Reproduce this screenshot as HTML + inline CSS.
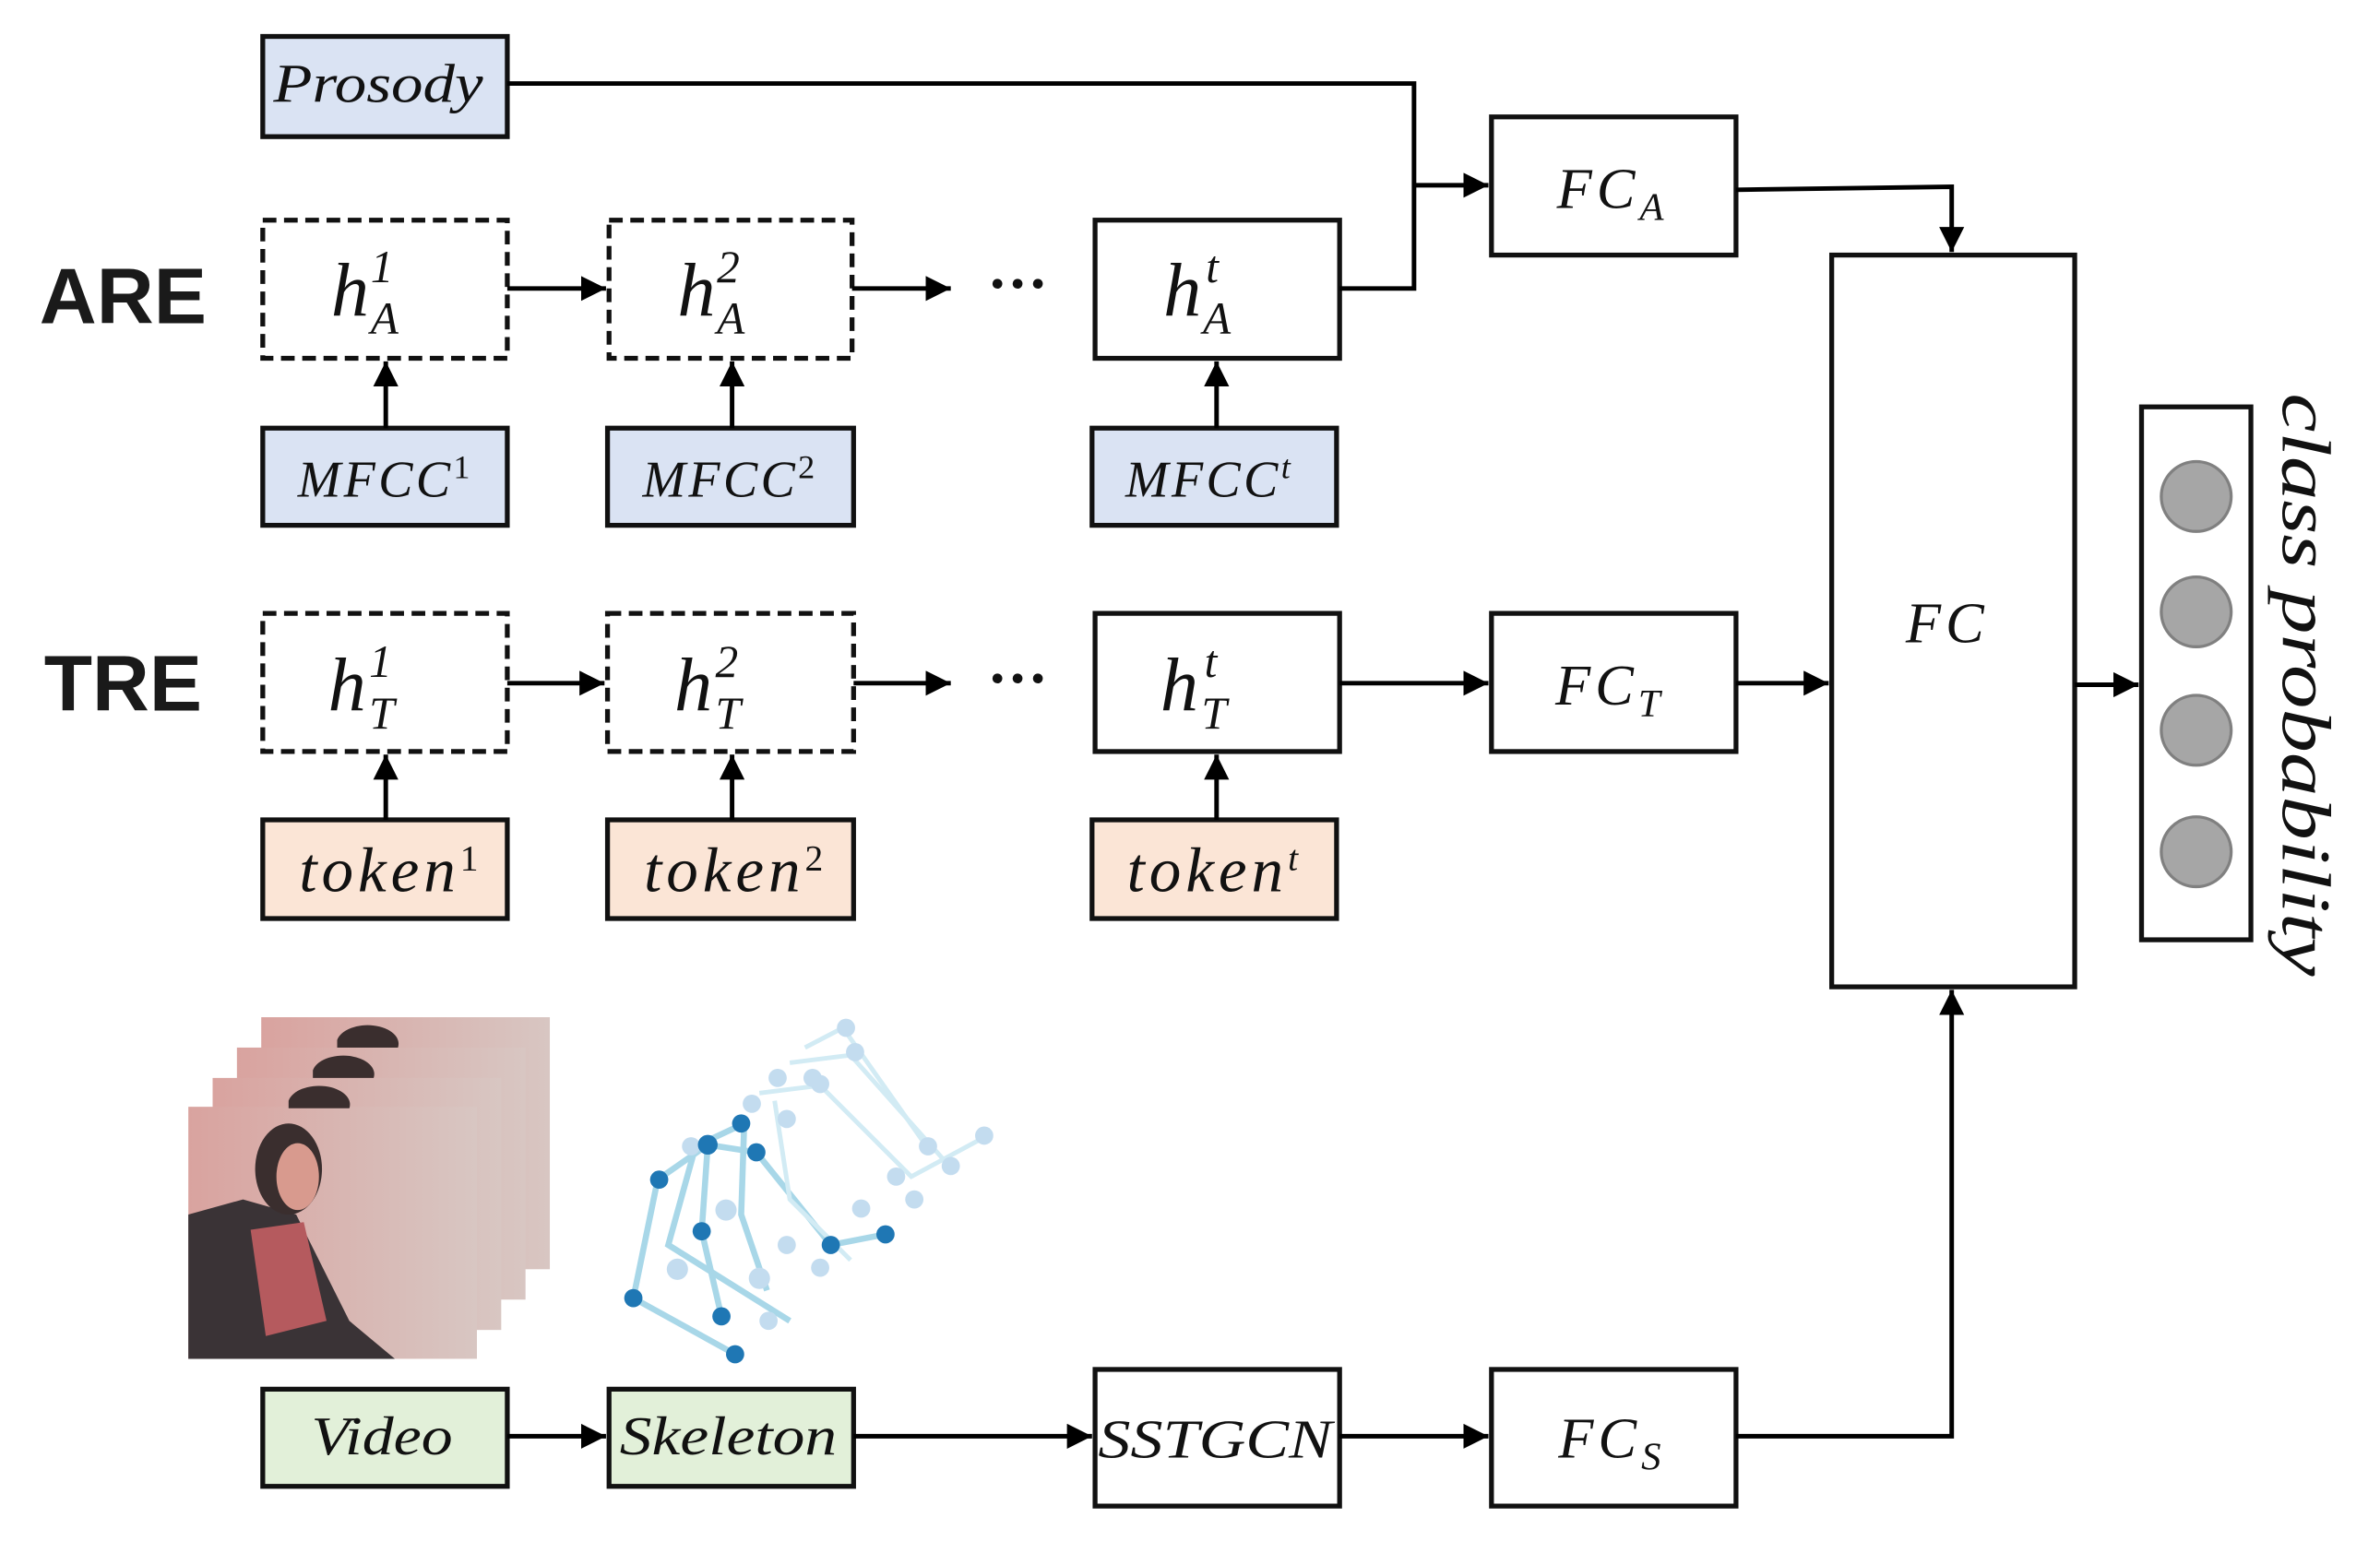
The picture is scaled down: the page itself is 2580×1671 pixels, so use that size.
<!DOCTYPE html>
<html><head><meta charset="utf-8"><style>html,body{margin:0;padding:0;background:#fff}svg{display:block}</style></head>
<body>
<svg width="2580" height="1671" viewBox="0 0 1567 1015" preserveAspectRatio="none" xmlns="http://www.w3.org/2000/svg">
<defs>
<marker id="b" viewBox="0 0 10 10" refX="10" refY="5" markerWidth="5.5" markerHeight="5.5" orient="auto"><path d="M0,0L10,5L0,10z" fill="#000"/></marker>
<linearGradient id="ph" x1="0" x2="1" y1="0" y2="0"><stop offset="0" stop-color="#d9a39f"/><stop offset="1" stop-color="#d8c6c2"/></linearGradient>
</defs>
<style>
text{font-family:"Liberation Serif",serif;font-style:italic;fill:#111}
.bx{stroke:#111;stroke-width:3.2;fill:#fff}
.ds{stroke-dasharray:9 5}
.ln{stroke:#000;stroke-width:3;fill:none}
</style>
<rect class="bx" x="173" y="24" width="161" height="66" style="fill:#dae3f3"/>
<text x="180" y="67" font-size="36" textLength="138" lengthAdjust="spacingAndGlyphs">Prosody</text>

<rect class="bx ds" x="173" y="145" width="161" height="91"/>
<rect class="bx ds" x="401" y="145" width="160" height="91"/>
<rect class="bx" x="721" y="145" width="161" height="91"/>
<text x="218" y="208" font-size="50">h</text><text x="244" y="186" font-size="30" font-style="normal">1</text><text x="244" y="220" font-size="30">A</text>
<text x="446" y="208" font-size="50">h</text><text x="472" y="186" font-size="30" font-style="normal">2</text><text x="472" y="220" font-size="30">A</text>
<text x="766" y="208" font-size="50">h</text><text x="794" y="186" font-size="30">t</text><text x="792" y="220" font-size="30">A</text>

<rect class="bx" x="173" y="282" width="161" height="64" style="fill:#dae3f3"/>
<rect class="bx" x="400" y="282" width="162" height="64" style="fill:#dae3f3"/>
<rect class="bx" x="719" y="282" width="161" height="64" style="fill:#dae3f3"/>
<text x="196" y="327" font-size="34" letter-spacing="2">MFCC<tspan font-size="22" dy="-12" font-style="normal">1</tspan></text>
<text x="423" y="327" font-size="34" letter-spacing="2">MFCC<tspan font-size="22" dy="-12" font-style="normal">2</tspan></text>
<text x="741" y="327" font-size="34" letter-spacing="2">MFCC<tspan font-size="22" dy="-12">t</tspan></text>

<text x="26" y="213" font-size="52" textLength="110" lengthAdjust="spacingAndGlyphs" style="font-family:'Liberation Sans',sans-serif;font-style:normal;font-weight:bold;fill:#1a1a1a">ARE</text>
<text x="29" y="468" font-size="52" textLength="104" lengthAdjust="spacingAndGlyphs" style="font-family:'Liberation Sans',sans-serif;font-style:normal;font-weight:bold;fill:#1a1a1a">TRE</text>

<rect class="bx ds" x="173" y="404" width="161" height="91"/>
<rect class="bx ds" x="400" y="404" width="162" height="91"/>
<rect class="bx" x="721" y="404" width="161" height="91"/>
<text x="216" y="468" font-size="50">h</text><text x="243" y="446" font-size="30" font-style="normal">1</text><text x="243" y="480" font-size="30">T</text>
<text x="444" y="468" font-size="50">h</text><text x="471" y="446" font-size="30" font-style="normal">2</text><text x="471" y="480" font-size="30">T</text>
<text x="764" y="468" font-size="50">h</text><text x="793" y="446" font-size="30">t</text><text x="791" y="480" font-size="30">T</text>

<rect class="bx" x="173" y="540" width="161" height="65" style="fill:#fbe5d6"/>
<rect class="bx" x="400" y="540" width="162" height="65" style="fill:#fbe5d6"/>
<rect class="bx" x="719" y="540" width="161" height="65" style="fill:#fbe5d6"/>
<text x="197" y="587" font-size="42" letter-spacing="3">token<tspan font-size="24" dy="-14" font-style="normal">1</tspan></text>
<text x="424" y="587" font-size="42" letter-spacing="3">token<tspan font-size="24" dy="-14" font-style="normal">2</tspan></text>
<text x="742" y="587" font-size="42" letter-spacing="3">token<tspan font-size="24" dy="-14">t</tspan></text>

<text x="650" y="200" font-size="40" style="font-style:normal;font-weight:bold">···</text>
<text x="650" y="460" font-size="40" style="font-style:normal;font-weight:bold">···</text>

<rect class="bx" x="982" y="77" width="161" height="91"/>
<text x="1025" y="137" font-size="38" letter-spacing="3">FC<tspan font-size="26" dy="8">A</tspan></text>
<rect class="bx" x="982" y="404" width="161" height="91"/>
<text x="1024" y="464" font-size="38" letter-spacing="3">FC<tspan font-size="26" dy="8">T</tspan></text>
<rect class="bx" x="982" y="902" width="161" height="90"/>
<text x="1026" y="960" font-size="38" letter-spacing="3">FC<tspan font-size="26" dy="8">S</tspan></text>
<rect class="bx" x="721" y="902" width="161" height="90"/>
<text x="723" y="960" font-size="36" textLength="154" lengthAdjust="spacingAndGlyphs">SSTGCN</text>

<rect class="bx" x="1206" y="168" width="160" height="482"/>
<text x="1282" y="423" font-size="38" text-anchor="middle" letter-spacing="3">FC</text>
<rect class="bx" x="1410" y="268" width="72" height="351"/>
<g fill="#a6a6a6" stroke="#808080" stroke-width="2">
<circle cx="1446" cy="327" r="23"/><circle cx="1446" cy="403" r="23"/><circle cx="1446" cy="481" r="23"/><circle cx="1446" cy="561" r="23"/>
</g>
<text transform="translate(1503,259) rotate(90)" font-size="46" textLength="384" lengthAdjust="spacingAndGlyphs">class probability</text>

<rect class="bx" x="173" y="915" width="161" height="64" style="fill:#e2f0d9"/>
<text x="205" y="958" font-size="36" textLength="93" lengthAdjust="spacingAndGlyphs">Video</text>
<rect class="bx" x="401" y="915" width="161" height="64" style="fill:#e2f0d9"/>
<text x="408" y="958" font-size="36" textLength="143" lengthAdjust="spacingAndGlyphs">Skeleton</text>

<g class="ln">
<path d="M334,55H931V190H882"/>
<path d="M931,122H980" marker-end="url(#b)"/>
<path d="M1143,125L1285,123V166" marker-end="url(#b)"/>
<path d="M334,190H399" marker-end="url(#b)"/>
<path d="M561,190H626" marker-end="url(#b)"/>
<path d="M334,450H398" marker-end="url(#b)"/>
<path d="M562,450H626" marker-end="url(#b)"/>
<path d="M882,450H980" marker-end="url(#b)"/>
<path d="M1143,450H1204" marker-end="url(#b)"/>
<path d="M1366,451H1408" marker-end="url(#b)"/>
<path d="M254,282V238" marker-end="url(#b)"/>
<path d="M482,282V238" marker-end="url(#b)"/>
<path d="M801,282V238" marker-end="url(#b)"/>
<path d="M254,540V497" marker-end="url(#b)"/>
<path d="M482,540V497" marker-end="url(#b)"/>
<path d="M801,540V497" marker-end="url(#b)"/>
<path d="M334,946H399" marker-end="url(#b)"/>
<path d="M562,946H719" marker-end="url(#b)"/>
<path d="M882,946H980" marker-end="url(#b)"/>
<path d="M1143,946H1285V652" marker-end="url(#b)"/>
</g>

<rect x="172" y="670" width="190" height="166" fill="url(#ph)"/>
<rect x="156" y="690" width="190" height="166" fill="url(#ph)"/>
<rect x="140" y="710" width="190" height="166" fill="url(#ph)"/>
<rect x="124" y="729" width="190" height="166" fill="url(#ph)"/>
<path d="M124,895V800L160,790L195,800L230,870L260,895Z" fill="#3a3336"/>
<path d="M165,810L200,805L215,870L175,880Z" fill="#b55a5e"/>
<ellipse cx="190" cy="770" rx="22" ry="30" fill="#3a2e2e"/>
<ellipse cx="196" cy="775" rx="14" ry="22" fill="#d89a8e"/>
<path d="M222,685a20,12 0 0 1 40,5h-40z M206,705a20,12 0 0 1 40,5h-40z M190,725a20,12 0 0 1 40,5h-40z" fill="#3a2e2e"/>

<g stroke="#9fd3e6" stroke-width="4" fill="none" opacity="0.9">
<path d="M466,754L433,777L417,855L484,892"/><path d="M466,754L462,811L475,867"/><path d="M466,754L498,759L547,820L583,813"/>
<path d="M490,740L458,755L440,820L520,870"/><path d="M490,740L488,800L505,850"/>
</g>
<g stroke="#d2ebf4" stroke-width="3" fill="none">
<path d="M500,720L540,715L600,775L650,748"/><path d="M520,700L560,695L625,768"/><path d="M530,690L555,677L610,755"/><path d="M510,725L520,790L560,830"/>
</g>
<g fill="#c3dcef"><circle cx="557" cy="677" r="6"/><circle cx="563" cy="693" r="6"/><circle cx="540" cy="714" r="6"/><circle cx="518" cy="737" r="6"/><circle cx="648" cy="748" r="6"/><circle cx="626" cy="768" r="6"/><circle cx="611" cy="755" r="6"/><circle cx="590" cy="775" r="6"/><circle cx="602" cy="790" r="6"/><circle cx="567" cy="796" r="6"/><circle cx="518" cy="820" r="6"/><circle cx="540" cy="835" r="6"/><circle cx="506" cy="870" r="6"/><circle cx="535" cy="710" r="6"/><circle cx="512" cy="710" r="6"/><circle cx="495" cy="727" r="6"/><circle cx="455" cy="755" r="6"/><circle cx="478" cy="797" r="7"/><circle cx="446" cy="836" r="7"/><circle cx="500" cy="842" r="7"/></g>
<g fill="#1f77b4"><circle cx="466" cy="754" r="6.5"/><circle cx="488" cy="740" r="6"/><circle cx="498" cy="759" r="6"/><circle cx="434" cy="777" r="6"/><circle cx="462" cy="811" r="6"/><circle cx="547" cy="820" r="6"/><circle cx="583" cy="813" r="6"/><circle cx="417" cy="855" r="6"/><circle cx="475" cy="867" r="6"/><circle cx="484" cy="892" r="6"/></g>
</svg>
</body></html>
